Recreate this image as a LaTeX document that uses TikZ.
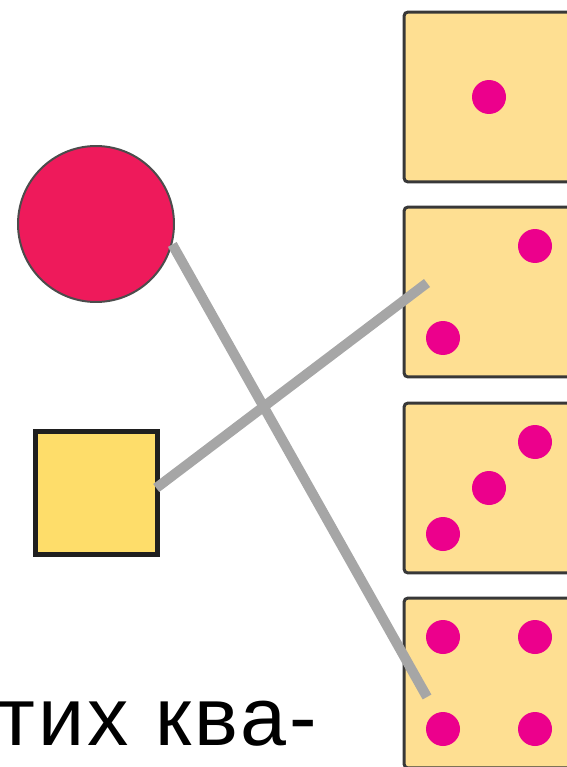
\documentclass[tikz,border=0pt]{standalone}
\usepackage{fontspec}
\setmainfont{Liberation Sans}
\usetikzlibrary{calc}
\definecolor{ballred}{HTML}{EE1A5B}
\definecolor{boxyellow}{HTML}{FEDD6A}
\definecolor{diefill}{HTML}{FEDF92}
\definecolor{pipmag}{HTML}{EC008C}
\definecolor{linkgray}{HTML}{A6A6A6}

\begin{document}
\begin{tikzpicture}[x=0.02cm,y=-0.02cm,
		die/.style={draw=black!78,fill=diefill,line width=0.06cm,rounded corners=0.08cm,minimum size=3.4cm,inner sep=0pt},
		pip/.style={circle,fill=pipmag,minimum size=0.68cm,inner sep=0pt},
		ball/.style={circle,draw=black!70,fill=ballred,line width=0.04cm,minimum size=3.12cm,inner sep=0pt},
		box/.style={draw=black!88,fill=boxyellow,line width=0.1cm,minimum size=2.45cm,inner sep=0pt},
		link/.style={draw=linkgray,line width=0.2cm}]
	\useasboundingbox (0,0) rectangle (567,767);
	\clip (0,0) rectangle (567,767);
	%% dice
	\foreach \n/\y in {1/97,2/292,3/488,4/683} \node[die] (die\n) at (489,\y) {};
	\node[pip] (p1) at (die1) {};
	\node[pip] (p2a) at ($(die2)+(46,-46)$) {};
	\node[pip] (p2b) at ($(die2)+(-46,46)$) {};
	\node[pip] (p3a) at ($(die3)+(46,-46)$) {};
	\node[pip] (p3b) at (die3) {};
	\node[pip] (p3c) at ($(die3)+(-46,46)$) {};
	\foreach \dx in {-46,46} \foreach \dy in {-46,46} \node[pip] at ($(die4)+(\dx,\dy)$) {};
	%% shapes
	\node[ball] (ball) at (96,224) {};
	\node[box] (box) at (96.5,493) {};
	%% links
	\coordinate (end1) at ($(die4)+(-62,14)$);
	\coordinate (end2) at ($(die2)+(-62,-9)$);
	\draw[link] (ball.-15) -- (end1);
	\draw[link] ([shift={(-4,-5)}]box.east) -- (end2);
	\node[font=\fontsize{47}{50}\selectfont\addfontfeature{LetterSpace=3.8},anchor=base west,inner sep=0pt] (caption) at (-47,745) {стих ква-};
\end{tikzpicture}
\end{document}
